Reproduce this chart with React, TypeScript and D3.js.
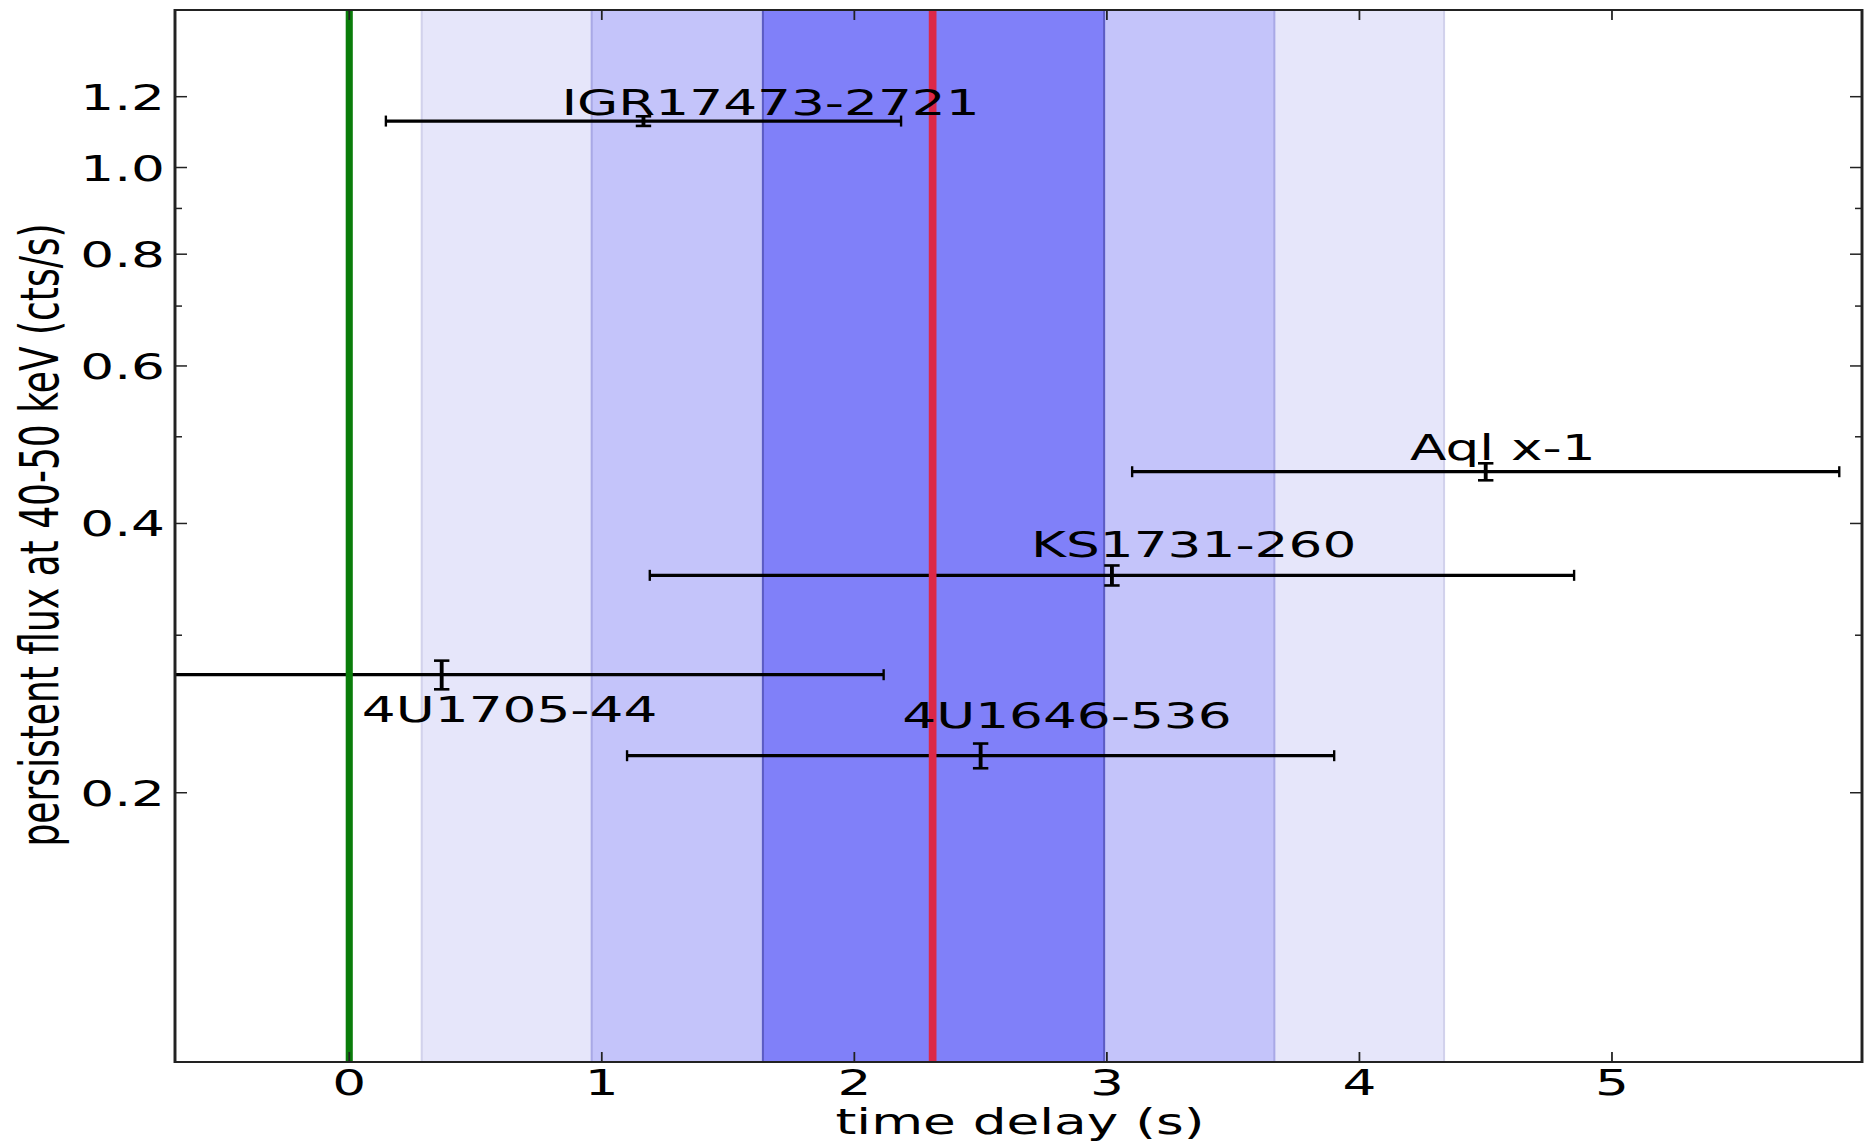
import React from 'react';
import * as d3 from 'd3';

// Figure size and the horizontal stretch applied to the whole drawing
const W = 1864;
const H = 1145;
const SX = 1.48;

// Sources: time delay (s) and persistent flux at 40-50 keV (cts/s)
const sources = ['IGR17473-2721', 'Aql x-1', 'KS1731-260', '4U1705-44', '4U1646-536'];
const delay = [1.165, 4.5, 3.02, 0.366, 2.5];
const delayErr = [1.02, 1.4, 1.83, 1.75, 1.4];
const flux = [1.127, 0.457, 0.35, 0.271, 0.22];
const fluxErr = [0.014, 0.01, 0.009, 0.01, 0.007];

// Where each source name is written (data coordinates, left/baseline)
const labelDelay = [0.84, 4.2, 2.7, 0.05, 2.19];
const labelFlux = [1.145, 0.471, 0.367, 0.24, 0.236];

// Shaded delay ranges around the mean, outermost first
const bandLo = [0.287, 0.96, 1.638];
const bandHi = [4.335, 3.663, 2.989];
const bandFill = ['#e6e6fa', '#c4c4fa', '#8080f9'];
const bandEdge = ['#d2d2ec', '#a9a9e6', '#5c5cc4'];

// Reference delays
const zeroDelay = 0;
const meanDelay = 2.31;

// Axes
const xDomain = [-0.69, 5.99];
const yDomain = [0.1, 1.5];
const xTicks = [0, 1, 2, 3, 4, 5];
const yMajor = [0.2, 0.4, 0.6, 0.8, 1.0, 1.2];
const yMinor = [0.3, 0.5, 0.7, 0.9];

const FONT = '"DejaVu Sans", Verdana, sans-serif';
const FS = 36;

export default function App() {
  const left = 175 / SX;
  const right = 1862 / SX;
  const top = 10;
  const bottom = 1062;

  const x = d3.scaleLinear().domain(xDomain).range([left, right]);
  const y = d3.scaleLog().domain(yDomain).range([bottom, top]);

  const cap = 5.5;
  const yCap = 5.5 / SX * 1.4;

  const majLen = 12 / SX;
  const minLen = 7 / SX;
  const xTickLen = 10;

  return (
    <svg
      width={W}
      height={H}
      style={{ position: 'absolute', left: 0, top: 0, background: '#fff' }}
      fontFamily={FONT}
    >
      <defs>
        <clipPath id="plotArea">
          <rect x={left} y={top} width={right - left} height={bottom - top} />
        </clipPath>
      </defs>
      <g transform={`scale(${SX},1)`}>
        {/* shaded delay ranges */}
        <g clipPath="url(#plotArea)">
          {bandLo.map((lo, i) => (
            <g key={`band${i}`}>
              <rect
                x={x(lo)}
                y={top}
                width={x(bandHi[i]) - x(lo)}
                height={bottom - top}
                fill={bandFill[i]}
              />
              <line x1={x(lo)} x2={x(lo)} y1={top} y2={bottom} stroke={bandEdge[i]} strokeWidth={1.4} />
              <line
                x1={x(bandHi[i])}
                x2={x(bandHi[i])}
                y1={top}
                y2={bottom}
                stroke={bandEdge[i]}
                strokeWidth={1.4}
              />
            </g>
          ))}
        </g>

        {/* error bars */}
        <g clipPath="url(#plotArea)" stroke="#000" strokeWidth={3.2} fill="none">
          {sources.map((s, i) => {
            const cy = y(flux[i]);
            const x0 = x(delay[i] - delayErr[i]);
            const x1 = x(delay[i] + delayErr[i]);
            const cx = x(delay[i]);
            const y0 = y(flux[i] - fluxErr[i]);
            const y1 = y(flux[i] + fluxErr[i]);
            return (
              <g key={s}>
                <line x1={x0} x2={x1} y1={cy} y2={cy} />
                <line x1={x0} x2={x0} y1={cy - cap} y2={cy + cap} strokeWidth={1.6} />
                <line x1={x1} x2={x1} y1={cy - cap} y2={cy + cap} strokeWidth={1.6} />
                <line x1={cx} x2={cx} y1={y0} y2={y1} strokeWidth={2.6} />
                <line x1={cx - yCap} x2={cx + yCap} y1={y0} y2={y0} strokeWidth={2.6} />
                <line x1={cx - yCap} x2={cx + yCap} y1={y1} y2={y1} strokeWidth={2.6} />
              </g>
            );
          })}
        </g>

        {/* reference delays */}
        <line
          x1={x(zeroDelay)}
          x2={x(zeroDelay)}
          y1={top}
          y2={bottom}
          stroke="#0a7d0a"
          strokeWidth={4.8}
        />
        <line
          x1={x(meanDelay)}
          x2={x(meanDelay)}
          y1={top}
          y2={bottom}
          stroke="#dc2848"
          strokeWidth={5.2}
        />

        {/* source names */}
        {sources.map((s, i) => (
          <text key={`lab${s}`} x={x(labelDelay[i])} y={y(labelFlux[i])} fontSize={FS} fill="#000">
            {s}
          </text>
        ))}

        {/* frame */}
        <rect
          x={left}
          y={top}
          width={right - left}
          height={bottom - top}
          fill="none"
          stroke="#222"
          strokeWidth={2}
        />

        {/* x ticks, bottom and top */}
        <g stroke="#222" strokeWidth={1.2}>
          {xTicks.map((t) => (
            <g key={`xt${t}`}>
              <line x1={x(t)} x2={x(t)} y1={bottom} y2={bottom - xTickLen} />
              <line x1={x(t)} x2={x(t)} y1={top} y2={top + xTickLen} />
            </g>
          ))}
        </g>
        {xTicks.map((t) => (
          <text key={`xl${t}`} x={x(t)} y={1095} fontSize={FS} textAnchor="middle" fill="#000">
            {t}
          </text>
        ))}

        {/* y ticks, left and right */}
        <g stroke="#222" strokeWidth={1.5}>
          {yMajor.map((t) => (
            <g key={`ym${t}`}>
              <line x1={left} x2={left + majLen} y1={y(t)} y2={y(t)} />
              <line x1={right} x2={right - majLen} y1={y(t)} y2={y(t)} />
            </g>
          ))}
          {yMinor.map((t) => (
            <g key={`yn${t}`}>
              <line x1={left} x2={left + minLen} y1={y(t)} y2={y(t)} />
              <line x1={right} x2={right - minLen} y1={y(t)} y2={y(t)} />
            </g>
          ))}
        </g>
        {yMajor.map((t) => (
          <text key={`yl${t}`} x={165 / SX} y={y(t) + 13} fontSize={FS} textAnchor="end" fill="#000">
            {d3.format('.1f')(t)}
          </text>
        ))}

        {/* axis titles */}
        <text x={1020 / SX} y={1134} fontSize={FS} textAnchor="middle" fill="#000">
          time delay (s)
        </text>
        <text
          transform={`translate(${58 / SX},535) rotate(-90)`}
          fontSize={FS}
          textAnchor="middle"
          fill="#000"
        >
          persistent flux at 40-50 keV (cts/s)
        </text>
      </g>
    </svg>
  );
}
